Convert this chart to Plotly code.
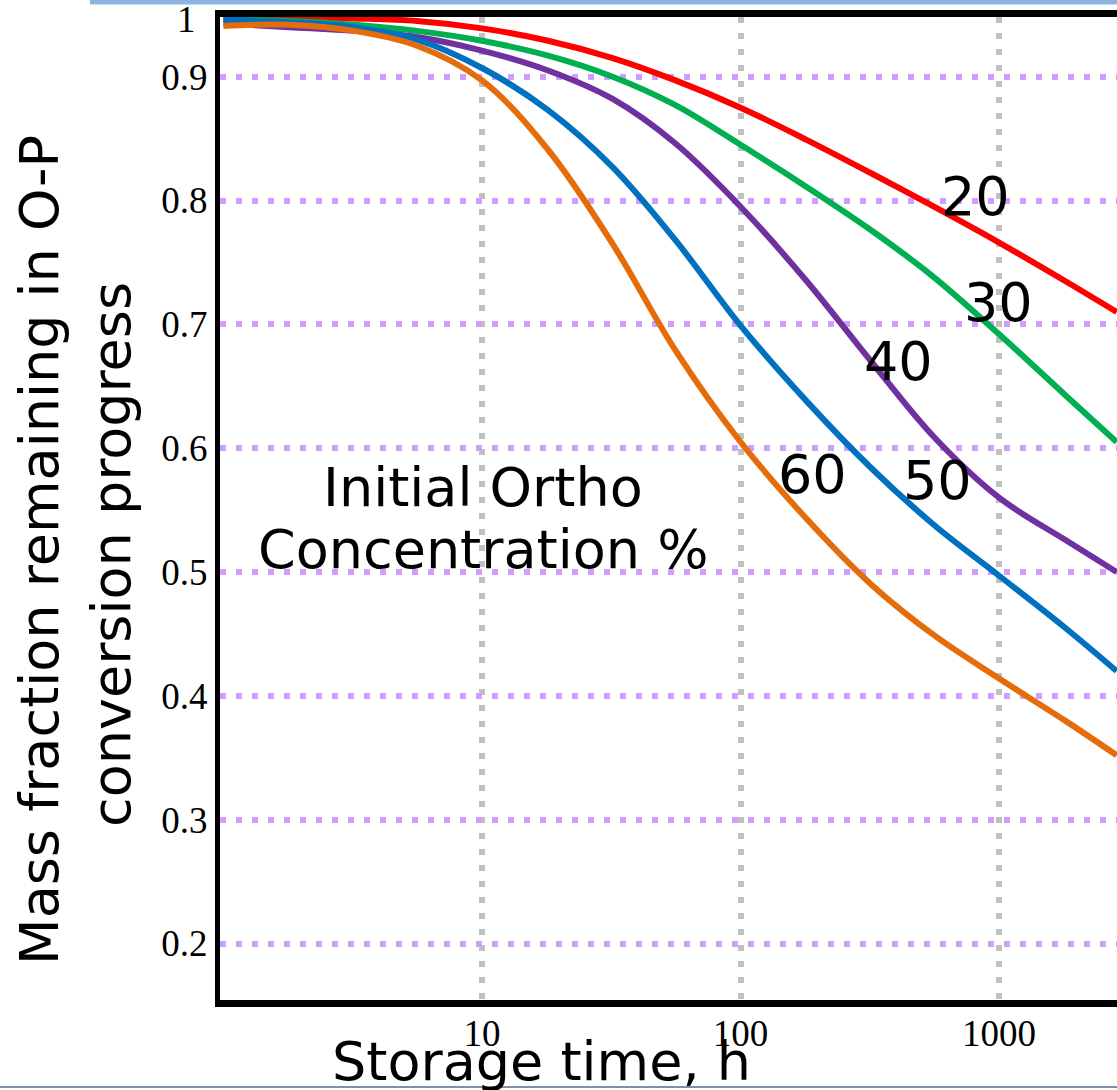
import plotly.graph_objects as go

# ---------------- data ----------------
time_h = [1, 1.8, 3.2, 5.6, 10, 18, 32, 56, 100, 180, 320, 560, 1000, 1800, 2850]

ortho_20 = [0.948, 0.948, 0.947, 0.945, 0.939, 0.929, 0.915, 0.897, 0.875,
            0.849, 0.822, 0.795, 0.766, 0.735, 0.710]
ortho_30 = [0.946, 0.945, 0.942, 0.937, 0.929, 0.917, 0.900, 0.877, 0.845,
            0.811, 0.776, 0.738, 0.692, 0.643, 0.605]
ortho_40 = [0.943, 0.940, 0.937, 0.932, 0.921, 0.905, 0.882, 0.846, 0.795,
            0.735, 0.670, 0.609, 0.560, 0.526, 0.500]
ortho_50 = [0.946, 0.944, 0.940, 0.930, 0.907, 0.873, 0.827, 0.768, 0.699,
            0.638, 0.584, 0.538, 0.497, 0.455, 0.420]
ortho_60 = [0.941, 0.942, 0.937, 0.925, 0.897, 0.841, 0.765, 0.679, 0.605,
            0.543, 0.490, 0.449, 0.414, 0.380, 0.352]

series_names = ["20", "30", "40", "50", "60"]
series_values = [ortho_20, ortho_30, ortho_40, ortho_50, ortho_60]
series_colors = ["#FF0000", "#00B050", "#7030A0", "#0070C0", "#E46C0A"]

x_tick_values = [10, 100, 1000]
x_tick_labels = ["10", "100", "1000"]
y_tick_values = [0.2, 0.3, 0.4, 0.5, 0.6, 0.7, 0.8, 0.9]
y_tick_labels = ["0.2", "0.3", "0.4", "0.5", "0.6", "0.7", "0.8", "0.9"]

# label positions (log10 x, y) for the in-plot curve labels
label_pos = {"20": (2.907, 0.803), "30": (2.996, 0.718), "40": (2.609, 0.670),
             "50": (2.760, 0.574), "60": (2.277, 0.579)}

# ---------------- figure ----------------
SANS = "DejaVu Sans, Verdana, sans-serif"
SERIF = "Liberation Serif, Times New Roman, serif"
TXT = 54

fig = go.Figure()
for name, vals, col in zip(series_names, series_values, series_colors):
    fig.add_trace(go.Scatter(
        x=time_h, y=vals, mode="lines", name=name,
        line=dict(color=col, width=6, shape="spline", smoothing=1.0),
        showlegend=False, hoverinfo="skip"))

annotations = []
for name in series_names:
    lx, ly = label_pos[name]
    annotations.append(dict(x=lx, y=ly, xref="x", yref="y", text=name, showarrow=False,
                            font=dict(family=SANS, size=TXT, color="black")))

annotations += [
    dict(x=1.004, y=0.568, xref="x", yref="y", text="Initial Ortho", showarrow=False,
         font=dict(family=SANS, size=TXT, color="black")),
    dict(x=1.004, y=0.518, xref="x", yref="y", text="Concentration %", showarrow=False,
         font=dict(family=SANS, size=TXT, color="black")),
    # top "1" label of the y axis
    dict(x=-0.0245, y=0.946, xref="paper", yref="y", text="1", showarrow=False,
         xanchor="right", yanchor="middle",
         font=dict(family=SERIF, size=37, color="black")),
    # y axis title (two lines)
    dict(x=-0.2007, y=0.4578, xref="paper", yref="paper",
         text="Mass fraction remaining in O-P",
         showarrow=False, textangle=-90, xanchor="center", yanchor="middle",
         font=dict(family=SANS, size=TXT, color="black")),
    dict(x=-0.1204, y=0.4527, xref="paper", yref="paper",
         text="conversion progress",
         showarrow=False, textangle=-90, xanchor="center", yanchor="middle",
         font=dict(family=SANS, size=TXT, color="black")),
    # x axis title
    dict(x=0.358, y=-0.0624, xref="paper", yref="paper", text="Storage time, h",
         showarrow=False, xanchor="center", yanchor="middle",
         font=dict(family=SANS, size=TXT, color="black")),
]

shapes = [
    # thin light-blue band at the very top
    dict(type="line", xref="paper", yref="paper", x0=-0.145, x1=1.0, y0=1.0153, y1=1.0153,
         line=dict(color="#8DB3E2", width=5), layer="above"),
    # thin slate line at the very bottom
    dict(type="line", xref="paper", yref="paper", x0=-0.3, x1=1.0, y0=-0.0885, y1=-0.0885,
         line=dict(color="#7F8FA9", width=2), layer="above"),
]

fig.update_layout(
    width=1117, height=1090,
    margin=dict(l=220, r=0, t=17, b=90, pad=0),
    paper_bgcolor="white", plot_bgcolor="white",
    annotations=annotations, shapes=shapes,
    showlegend=False,
)

fig.update_xaxes(
    type="log", range=[-0.0135, 3.456],
    tickvals=x_tick_values, ticktext=x_tick_labels,
    showgrid=True, gridcolor="#C0C0C0", gridwidth=6, griddash="6px,10px",
    showline=True, linecolor="black", linewidth=7, mirror=True,
    ticks="", ticklabelstandoff=-5,
    tickfont=dict(family=SERIF, size=37, color="black"),
    zeroline=False,
)
fig.update_yaxes(
    range=[0.1544, 0.9482],
    tickvals=y_tick_values, ticktext=y_tick_labels,
    showgrid=True, gridcolor="#CF9FFF", gridwidth=6, griddash="6px,10px",
    showline=True, linecolor="black", linewidth=5,
    ticks="", ticklabelstandoff=0,
    tickfont=dict(family=SERIF, size=37, color="black"),
    zeroline=False,
)

fig.write_html("out.html")
